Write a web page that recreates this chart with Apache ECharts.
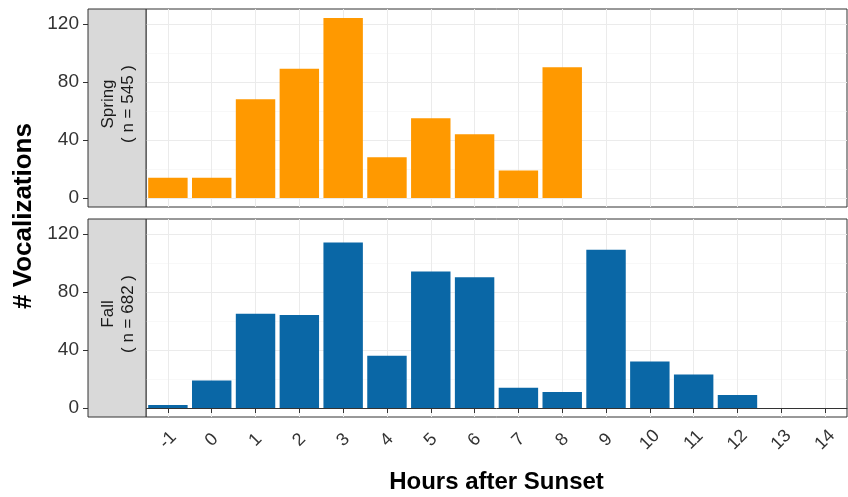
<!DOCTYPE html>
<html>
<head>
<meta charset="utf-8">
<script src="https://cdn.jsdelivr.net/npm/echarts@6/dist/echarts.min.js"></script>
<style>
  html, body { margin: 0; padding: 0; background: #fff; }
  #chart { width: 848px; height: 497px; }
</style>
</head>
<body>
<div id="chart"></div>
<script>
// Hours after sunset (categories) and vocalization counts per season
const hours = ['-1', '0', '1', '2', '3', '4', '5', '6', '7', '8', '9', '10', '11', '12', '13', '14'];
const springCounts = [14, 14, 68, 89, 124, 28, 55, 44, 19, 90, null, null, null, null, null, null];
const fallCounts = [2, 19, 65, 64, 114, 36, 94, 90, 14, 11, 109, 32, 23, 9, null, null];
const yMajorTicks = [0, 40, 80, 120];
const yMinorTicks = [20, 60, 100];
const seasons = ['Spring', 'Fall'];

const total = arr => arr.reduce((s, v) => s + (v || 0), 0);

const FONT = '"Liberation Sans", Arial, sans-serif';
const GRID_COLOR = '#ebebeb';
const TEXT_COLOR = '#333333';
const Y_MIN = -6.2, Y_MAX = 130.2;

const panels = [
  { top: 9, data: springCounts, color: '#FF9900', name: seasons[0] },
  { top: 219, data: fallCounts, color: '#0A67A6', name: seasons[1] }
];
const PANEL_H = 198, PANEL_LEFT = 146, PANEL_RIGHT = 1;
const STRIP_X = 88, STRIP_W = PANEL_LEFT - STRIP_X;

const grids = [], xAxes = [], yAxes = [], series = [], graphics = [];

panels.forEach((p, i) => {
  const isBottom = i === panels.length - 1;
  grids.push({
    left: PANEL_LEFT, right: PANEL_RIGHT, top: p.top, height: PANEL_H,
    show: true, borderColor: '#333333', borderWidth: 1, backgroundColor: 'transparent'
  });
  xAxes.push({
    type: 'category', gridIndex: i, data: hours,
    axisLine: { show: isBottom, lineStyle: { color: '#333333' } },
    axisTick: { show: isBottom, alignWithLabel: true, length: 5, lineStyle: { color: '#333333' } },
    axisLabel: {
      show: isBottom, rotate: 45, align: 'center', verticalAlign: 'middle', margin: 23,
      fontSize: 18, color: TEXT_COLOR, fontFamily: FONT
    },
    splitLine: { show: true, alignWithLabel: true, lineStyle: { color: GRID_COLOR, width: 1 } },
    name: isBottom ? 'Hours after Sunset' : '',
    nameLocation: 'middle', nameGap: 65,
    nameTextStyle: { fontSize: 24, fontWeight: 'bold', color: '#000', fontFamily: FONT, verticalAlign: 'middle' }
  });
  // major y axis, shifted left of the facet strip
  yAxes.push({
    type: 'value', gridIndex: i, min: Y_MIN, max: Y_MAX, offset: STRIP_W,
    axisLine: { show: false },
    axisTick: { show: true, customValues: yMajorTicks, length: 5, lineStyle: { color: '#333333' } },
    axisLabel: { customValues: yMajorTicks, fontSize: 19, color: TEXT_COLOR, fontFamily: FONT, margin: 9 },
    splitLine: { show: true, lineStyle: { color: GRID_COLOR, width: 1.1 } }
  });
  // minor grid lines
  yAxes.push({
    type: 'value', gridIndex: i, min: Y_MIN, max: Y_MAX,
    axisLine: { show: false },
    axisTick: { show: false, customValues: yMinorTicks },
    axisLabel: { show: false, customValues: yMinorTicks },
    splitLine: { show: true, lineStyle: { color: '#f3f3f3', width: 0.6 } }
  });
  series.push({
    type: 'bar', name: p.name, xAxisIndex: i, yAxisIndex: 2 * i,
    data: p.data, barCategoryGap: '10%',
    itemStyle: { color: p.color }, z: 3
  });

  // facet strip with season name and sample size
  graphics.push({
    type: 'rect',
    shape: { x: STRIP_X, y: p.top, width: STRIP_W, height: PANEL_H },
    style: { fill: '#d9d9d9', stroke: '#333333', lineWidth: 1 },
    z: 10
  });
  graphics.push({
    type: 'text',
    x: STRIP_X + STRIP_W / 2 + 1, y: p.top + PANEL_H / 2 - 4,
    rotation: Math.PI / 2,
    style: {
      text: p.name + '\n( n = ' + total(p.data) + ' )',
      x: 0, y: 0, align: 'center', verticalAlign: 'middle',
      lineHeight: 20, fontSize: 17, fontFamily: FONT, fill: '#1a1a1a'
    },
    z: 11
  });
});

// shared y-axis title
graphics.push({
  type: 'text', x: 24, y: 216, rotation: Math.PI / 2,
  style: {
    text: '# Vocalizations', x: 0, y: 0, align: 'center', verticalAlign: 'middle',
    fontSize: 26, fontWeight: 'bold', fontFamily: FONT, fill: '#000'
  },
  z: 11
});

const chart = echarts.init(document.getElementById('chart'), null, { renderer: 'canvas' });
chart.setOption({
  animation: false,
  backgroundColor: '#ffffff',
  grid: grids,
  xAxis: xAxes,
  yAxis: yAxes,
  series: series,
  graphic: graphics
});
</script>
</body>
</html>
